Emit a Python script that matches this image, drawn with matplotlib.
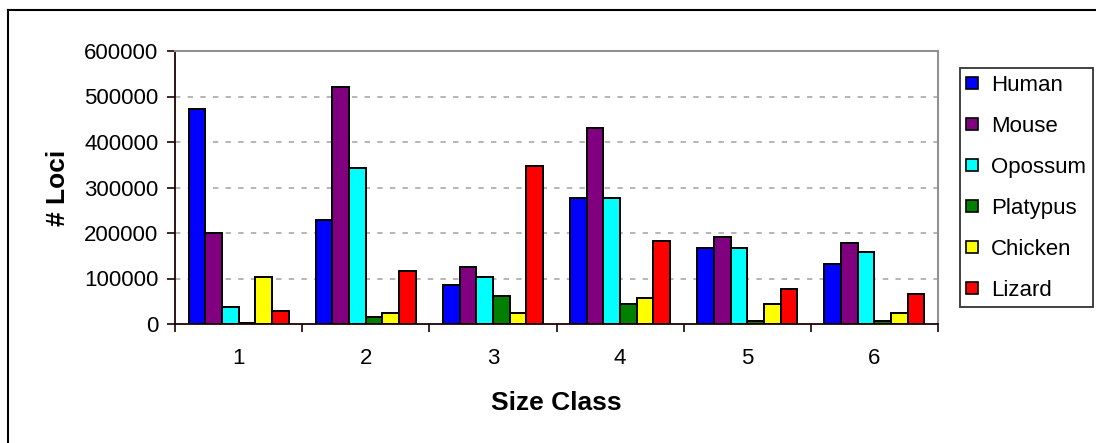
import matplotlib
matplotlib.use("Agg")
import matplotlib.pyplot as plt
import numpy as np
from matplotlib.lines import Line2D

plt.rcParams['font.family'] = ['Liberation Sans', 'DejaVu Sans']

categories = ["1", "2", "3", "4", "5", "6"]
series_names = ["Human", "Mouse", "Opossum", "Platypus", "Chicken", "Lizard"]
human = [472000, 228000, 86000, 278000, 167000, 131000]
mouse = [200000, 521000, 126000, 431000, 192000, 177000]
opossum = [38000, 343000, 103000, 278000, 167000, 159000]
platypus = [2000, 16000, 61000, 43000, 7000, 7000]
chicken = [104000, 25000, 25000, 58000, 43000, 25000]
lizard = [29000, 117000, 347000, 182000, 76000, 66000]
yticks = [0, 100000, 200000, 300000, 400000, 500000, 600000]

values = [human, mouse, opossum, platypus, chicken, lizard]
colors = ["#0000FF", "#800080", "#00FFFF", "#008000", "#FFFF00", "#FF0000"]

W, H = 1096, 443
fig = plt.figure(figsize=(W / 100, H / 100), dpi=100)
ax = fig.add_axes([175 / W, 1 - 324 / H, (938 - 175) / W, (324 - 51) / H])

n = len(series_names)
bw = 0.131
x = np.arange(len(categories))
handles = []
for i, (name, vals, c) in enumerate(zip(series_names, values, colors)):
    off = (i - (n - 1) / 2) * bw
    ax.bar(x + off, vals, width=bw, color=c, edgecolor="black", linewidth=1.4,
           label=name, zorder=3)
    handles.append(Line2D([0], [0], marker='s', linestyle='none', markersize=8,
                          markerfacecolor=c, markeredgecolor='black',
                          markeredgewidth=1.2, label=name))

ax.set_xlim(-0.5, len(categories) - 0.5)
ax.set_ylim(0, 600000)
ax.set_yticks(yticks)
ax.set_yticklabels([str(v) for v in yticks], fontsize=16)
ax.set_xticks(x)
ax.set_xticklabels(categories, fontsize=16)
ax.tick_params(axis='x', which='major', length=0, pad=17)
ax.set_xticks(np.arange(-0.5, len(categories), 1.0), minor=True)
ax.tick_params(axis='x', which='minor', length=6, width=1.2, direction='out', color='#200000')
ax.tick_params(axis='y', length=6, width=1.2, direction='out', color='#200000', pad=6)

for yv in yticks[1:-1]:
    ax.axhline(yv, color='#B0B0B0', linestyle=(0, (3, 4)), linewidth=1.3, zorder=1)

for s in ['left', 'bottom']:
    ax.spines[s].set_color('#200000')
    ax.spines[s].set_linewidth(1.3)
for s in ['top', 'right']:
    ax.spines[s].set_color('#909090')
    ax.spines[s].set_linewidth(1.5)
ax.spines['bottom'].set_zorder(4)

ax.set_xlabel("Size Class", fontsize=19, fontweight='bold', labelpad=16)
ax.set_ylabel("# Loci", fontsize=19, fontweight='bold', labelpad=10)

leg = fig.legend(handles=handles, loc='upper left',
                 bbox_to_anchor=(960 / W, 1 - 68 / H), fontsize=16,
                 frameon=True, fancybox=False, edgecolor='black',
                 labelspacing=0.9, handlelength=0.5, handletextpad=0.6,
                 borderpad=0.3, borderaxespad=0)
leg.get_frame().set_linewidth(1.3)

# outer chart border (left and top visible)
fig.add_artist(Line2D([8 / W, 8 / W], [0, 1 - 10 / H], transform=fig.transFigure,
                      color='black', linewidth=1.5))
fig.add_artist(Line2D([8 / W, 1], [1 - 10 / H, 1 - 10 / H], transform=fig.transFigure,
                      color='black', linewidth=1.5))

fig.savefig("out.png", dpi=100)
